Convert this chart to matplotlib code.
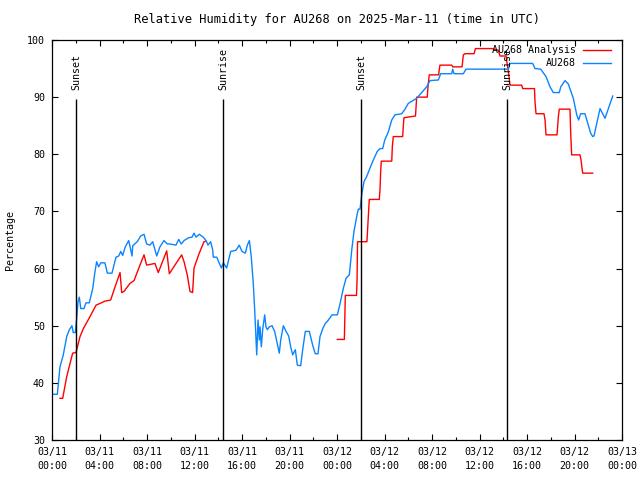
import numpy as np
import matplotlib
matplotlib.use('Agg')
import matplotlib.pyplot as plt

# hours since 2025-03-11 00:00 UTC
obs_hours = [0.0, 0.45, 0.67, 0.95, 1.24, 1.46, 1.68, 1.79, 1.96, 2.08, 2.19, 2.30, 2.42, 2.69, 2.86,
             3.14, 3.43, 3.60, 3.76, 3.93, 4.10, 4.46, 4.66, 5.05, 5.39, 5.62, 5.79, 5.95, 6.17, 6.46,
             6.74, 6.80, 7.18, 7.47, 7.75, 7.97, 8.25, 8.48, 8.82, 9.09, 9.43, 9.71, 9.94, 10.44, 10.67,
             10.89, 11.12, 11.51, 11.79, 11.96, 12.13, 12.40, 12.74, 12.97, 13.14, 13.36, 13.53, 13.58,
             13.87, 14.26, 14.43, 14.71, 15.05, 15.49, 15.77, 16.00, 16.28, 16.45, 16.62, 16.78, 16.95,
             17.07, 17.18, 17.24, 17.35, 17.46, 17.52, 17.63, 17.74, 17.91, 18.02, 18.13, 18.30, 18.53,
             18.75, 18.97, 19.14, 19.26, 19.48, 19.71, 19.93, 20.10, 20.27, 20.49, 20.66, 20.94, 21.11,
             21.33, 21.67, 21.95, 22.17, 22.40, 22.57, 22.80, 23.02, 23.24, 23.58, 24.03, 24.25, 24.53,
             24.76, 25.04, 25.24, 25.43, 25.66, 25.79, 25.94, 26.08, 26.27, 26.50, 26.78, 27.06, 27.39,
             27.62, 27.85, 28.02, 28.32, 28.61, 28.88, 29.45, 29.73, 30.00, 30.71, 31.55, 31.83, 32.53,
             32.73, 33.66, 33.74, 33.85, 34.64, 34.86, 38.43, 38.57, 40.48, 40.67, 41.15, 41.60, 41.94,
             42.22, 42.72, 42.84, 43.20, 43.48, 43.90, 44.19, 44.35, 44.52, 44.88, 45.16, 45.36, 45.53,
             45.64, 46.15, 46.57, 47.22]
obs_rh = [38.0, 38.0, 42.8, 44.9, 48.1, 49.3, 50.0, 48.8, 48.8, 51.3, 54.2, 55.0, 53.0, 53.0, 54.0,
          54.0, 56.5, 59.2, 61.2, 60.3, 61.0, 61.0, 59.2, 59.2, 62.0, 62.2, 63.0, 62.3, 63.8, 64.9,
          62.2, 64.0, 64.7, 65.7, 66.0, 64.3, 64.1, 64.7, 62.2, 63.8, 64.9, 64.3, 64.3, 64.1, 65.1,
          64.3, 64.9, 65.4, 65.5, 66.2, 65.5, 66.0, 65.5, 64.9, 64.1, 64.7, 63.3, 62.0,
          62.0, 60.1, 61.0, 60.1, 63.0, 63.2, 64.1, 63.0, 62.7, 64.1, 64.9, 62.1, 57.4,
          52.7, 47.5, 44.9, 51.0, 47.5, 49.8, 46.3, 49.3, 51.9, 49.8, 49.3, 49.8, 50.0,
          49.0, 46.9, 45.2, 47.5, 50.0, 49.0, 48.2, 46.3, 44.9, 45.8, 43.1, 43.0, 45.8,
          49.0, 49.0, 46.6, 45.1, 45.1, 48.1, 49.5, 50.4, 50.9, 51.9, 51.9, 53.8, 56.5,
          58.3, 58.9, 63.2, 66.5, 69.1, 70.4, 70.4, 72.9, 75.2, 76.1, 77.6, 79.0, 80.5,
          81.0, 81.0, 82.5, 83.9, 86.0, 86.9, 87.1, 87.9, 88.9, 89.8, 91.8, 92.9, 93.0,
          94.1, 94.1, 94.9, 94.1, 94.1, 94.9, 94.9, 95.9, 95.9, 95.0, 94.9, 93.6, 91.8,
          90.8, 90.8, 91.8, 92.9, 92.3, 89.8, 86.9, 86.0, 87.1, 87.1, 85.1, 83.7, 83.1,
          83.2, 88.0, 86.3, 90.2]

ana_hours = [0.67, 0.90, 1.24, 1.52, 1.74, 2.02, 2.36, 2.64, 3.20, 3.71, 4.04, 4.46, 4.94, 5.31,
             5.73, 5.87, 6.06, 6.57, 6.91, 7.35, 7.75, 7.97, 8.67, 8.95, 9.66, 9.88, 10.92, 11.12,
             11.39, 11.62, 11.84, 11.96, 12.40, 12.80, 12.97, 18.0,
             24.03, 24.62, 24.70, 25.64, 25.69, 25.73, 26.52, 26.57, 26.67, 26.72, 27.56, 27.62, 27.68,
             27.73, 28.61, 28.66, 28.74, 29.53, 29.58, 29.64, 30.61, 30.71, 31.60, 31.66, 31.77, 32.56,
             32.61, 32.67, 33.66, 33.74, 34.53, 34.64, 34.78, 35.54, 35.66, 37.05, 37.58, 37.73, 38.23,
             38.43, 38.57, 39.55, 39.64, 40.63, 40.67, 40.76, 41.43, 41.52, 41.60, 42.53, 42.64, 42.72,
             43.62, 43.68, 43.76, 44.46, 44.55, 44.63, 44.69, 45.53]
ana_rh = [37.3, 37.3, 41.1, 43.4, 45.2, 45.3, 48.1, 49.5, 51.6, 53.6, 53.9, 54.3, 54.5, 56.8,
          59.3, 55.8, 56.0, 57.4, 57.9, 60.3, 62.4, 60.6, 60.9, 59.3, 63.1, 59.1, 62.4, 61.2,
          58.9, 56.0, 55.8, 60.1, 62.7, 64.7, 64.8, np.nan,
          47.6, 47.6, 55.3, 55.3, 58.0, 64.7, 64.7, 66.6, 70.3, 72.1, 72.1, 73.8, 77.1,
          78.8, 78.8, 81.3, 83.1, 83.1, 84.8, 86.4, 86.7, 90.0, 90.0, 91.8, 93.9, 93.9,
          94.8, 95.6, 95.6, 95.3, 95.3, 97.4, 97.6, 97.6, 98.5, 98.5, 98.2, 97.2, 97.2,
          94.5, 92.1, 92.1, 91.5, 91.5, 89.3, 87.1, 87.1, 86.0, 83.4, 83.4, 86.6, 87.9,
          87.9, 83.7, 79.9, 79.9, 79.0, 77.6, 76.7, 76.7]

sun_hours = [2.02, 14.40, 26.02, 38.32]
sun_labels = ['Sunset', 'Sunrise', 'Sunset', 'Sunrise']

tick_hours = [0, 4, 8, 12, 16, 20, 24, 28, 32, 36, 40, 44, 48]
tick_labels = ['03/11\n00:00', '03/11\n04:00', '03/11\n08:00', '03/11\n12:00', '03/11\n16:00',
               '03/11\n20:00', '03/12\n00:00', '03/12\n04:00', '03/12\n08:00', '03/12\n12:00',
               '03/12\n16:00', '03/12\n20:00', '03/13\n00:00']

plt.rcParams['font.family'] = 'DejaVu Sans Mono'
plt.rcParams['font.size'] = 7.2

fig = plt.figure(figsize=(6.4, 4.8), dpi=100)
ax = fig.add_axes([52/640, 40/480, 570/640, 400/480])

ax.plot(ana_hours, ana_rh, color='#ff0000', lw=1.0, label='AU268 Analysis')
ax.plot(obs_hours, obs_rh, color='#0a84ff', lw=1.0, label='AU268')

for h, lab in zip(sun_hours, sun_labels):
    ax.vlines(h, 30, 89.7, color='black', lw=1.0)
    ax.text(h, 91.3, lab, rotation=90, ha='center', va='bottom')

ax.set_xlim(0, 48)
ax.set_ylim(30, 100)
ax.set_xticks(tick_hours)
ax.set_xticklabels(tick_labels, linespacing=1.5)
ax.set_xticks(np.arange(0, 49, 2), minor=True)
ax.set_yticks(np.arange(30, 101, 10))
ax.tick_params(which='both', direction='in', top=True, right=True, width=0.8)
ax.tick_params(which='major', length=4, pad=5)
ax.tick_params(which='minor', length=2.5)
for s in ax.spines.values():
    s.set_linewidth(0.9)

ax.set_title('Relative Humidity for AU268 on 2025-Mar-11 (time in UTC)', pad=12)
ax.set_ylabel('Percentage', labelpad=9)

ax.legend(loc='upper right', bbox_to_anchor=(0.981, 0.987), frameon=False, markerfirst=False,
          handlelength=2.8, handletextpad=0.7, labelspacing=0.3, borderaxespad=0, borderpad=0)

fig.savefig('out.png', dpi=100)
